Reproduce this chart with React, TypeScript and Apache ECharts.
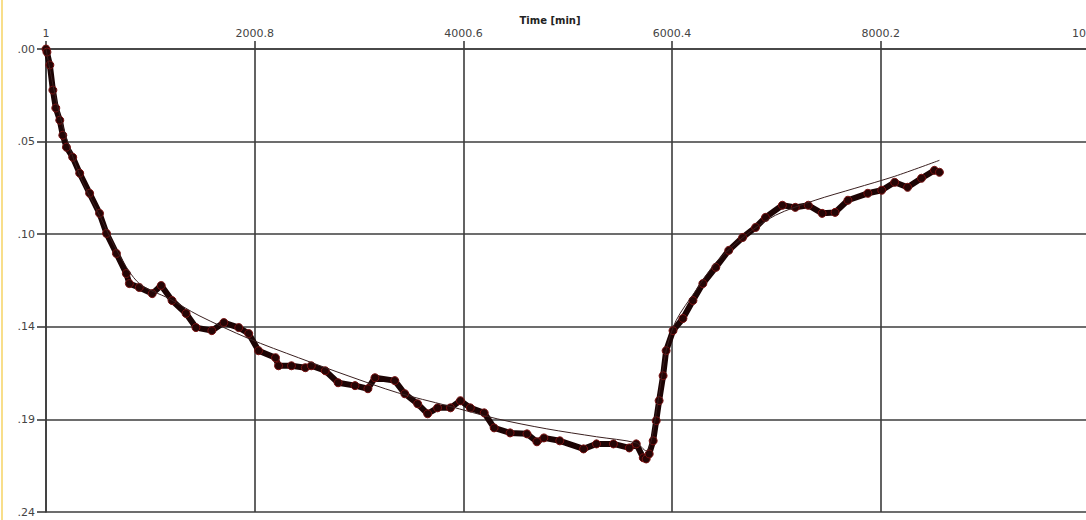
import React, { useEffect, useRef } from "react";
import * as echarts from "echarts";

// Measured data: time [min] and value
const dataTime = [1, 10, 38, 67, 95, 133, 162, 197, 257, 324, 419, 514, 581, 676, 771, 800, 895, 1019, 1105, 1209, 1343, 1438, 1590, 1705, 1848, 1943, 2038, 2200, 2229, 2353, 2486, 2543, 2677, 2800, 2962, 3086, 3153, 3343, 3439, 3562, 3658, 3753, 3877, 3972, 4067, 4200, 4295, 4448, 4610, 4705, 4772, 4924, 5152, 5276, 5438, 5590, 5657, 5724, 5752, 5781, 5819, 5848, 5876, 5914, 5943, 6009, 6104, 6200, 6295, 6419, 6543, 6676, 6800, 6895, 7057, 7181, 7305, 7438, 7562, 7685, 7876, 8009, 8133, 8257, 8390, 8514, 8562];
const dataValue = [0, -0.0016, -0.0083, -0.0213, -0.0306, -0.0369, -0.0447, -0.0509, -0.0561, -0.0644, -0.0748, -0.0852, -0.0956, -0.106, -0.1164, -0.1216, -0.1236, -0.1268, -0.1226, -0.1304, -0.1371, -0.1444, -0.146, -0.1418, -0.1444, -0.1475, -0.1564, -0.16, -0.1642, -0.1642, -0.1652, -0.1642, -0.1668, -0.173, -0.1745, -0.1761, -0.1704, -0.1719, -0.1787, -0.1839, -0.1891, -0.186, -0.186, -0.1823, -0.186, -0.1886, -0.1964, -0.199, -0.1995, -0.2036, -0.2016, -0.2031, -0.2073, -0.2047, -0.2047, -0.2068, -0.2047, -0.2119, -0.2125, -0.2099, -0.2031, -0.1927, -0.1823, -0.1694, -0.1564, -0.146, -0.1397, -0.1304, -0.1216, -0.1132, -0.1044, -0.0977, -0.0925, -0.0873, -0.081, -0.0821, -0.081, -0.0852, -0.0847, -0.0784, -0.0748, -0.0732, -0.0691, -0.0717, -0.067, -0.0629, -0.0639];

// Fitted curve
const fitTime = [1, 133, 324, 514, 705, 895, 1181, 1467, 1943, 2419, 2895, 3372, 3848, 4324, 4800, 5276, 5657, 5752, 5800, 5866, 5943, 6038, 6228, 6419, 6704, 6990, 7371, 7752, 8133, 8562];
const fitValue = [0, -0.0343, -0.0655, -0.0862, -0.107, -0.1216, -0.1294, -0.1382, -0.1501, -0.16, -0.1694, -0.1782, -0.1849, -0.1917, -0.1969, -0.201, -0.2042, -0.2083, -0.2031, -0.1823, -0.1564, -0.1408, -0.1252, -0.1107, -0.0966, -0.0862, -0.0784, -0.0722, -0.066, -0.0577];

// Axis settings (x ticks: 1, 2000.8, 4000.6, 6000.4, 8000.2, 10000)
const xStart = 1;
const xEnd = 10000;
const xStep = 1999.8;
const yMin = -0.24;
const yMax = 0;
const yStep = 0.048;
const xTitle = "Time [min]";

export default function App() {
  const ref = useRef<HTMLDivElement>(null);
  useEffect(() => {
    if (!ref.current) return;
    const chart = echarts.init(ref.current, null, { renderer: "svg" });
    const shift = (t: number) => t - xStart;
    const dataPts = dataTime.map((t, i) => [shift(t), dataValue[i]]);
    const fitPts = fitTime.map((t, i) => [shift(t), fitValue[i]]);
    const gridColor = "#3c3c3c";
    const font = "Verdana, 'DejaVu Sans', sans-serif";
    chart.setOption({
      animation: false,
      backgroundColor: "#ffffff",
      grid: { left: 46, top: 49, width: 1050, height: 463, containLabel: false },
      graphic: [
        { type: "rect", shape: { x: 1, y: 0, width: 2, height: 520 }, style: { fill: "#f8de8a" } },
        {
          type: "text",
          x: 550,
          y: 20,
          style: {
            text: xTitle,
            fill: "#222",
            font: "bold 10px Verdana, 'DejaVu Sans', sans-serif",
            textAlign: "center",
            textVerticalAlign: "middle",
          },
        },
      ],
      xAxis: {
        type: "value",
        position: "top",
        min: 0,
        max: xEnd - xStart,
        interval: xStep,
        axisLine: { show: true, lineStyle: { color: gridColor, width: 1.6 } },
        axisTick: { show: true, inside: false, length: 8, lineStyle: { color: gridColor, width: 1.6 } },
        splitLine: { show: true, lineStyle: { color: gridColor, width: 1.6 } },
        axisLabel: {
          color: "#444",
          fontSize: 11,
          fontFamily: font,
          margin: 10,
          formatter: (v: number) => {
            const r = Math.round((v + xStart) * 10) / 10;
            return Number.isInteger(r) ? String(r) : r.toFixed(1);
          },
        },
      },
      yAxis: {
        type: "value",
        min: yMin,
        max: yMax,
        interval: yStep,
        axisLine: { show: true, lineStyle: { color: gridColor, width: 1.6 } },
        axisTick: { show: true, inside: false, length: 9, lineStyle: { color: gridColor, width: 1.6 } },
        splitLine: { show: true, lineStyle: { color: gridColor, width: 1.6 } },
        axisLabel: {
          color: "#444",
          fontSize: 11,
          fontFamily: font,
          margin: 11,
          formatter: (v: number) => {
            const n = Math.round(Math.abs(v) * 100);
            return "." + String(n).padStart(2, "0");
          },
        },
      },
      series: [
        {
          type: "line",
          data: dataPts,
          z: 2,
          symbol: "circle",
          symbolSize: 8,
          showSymbol: true,
          itemStyle: { color: "#260505", borderColor: "#7a1212", borderWidth: 1 },
          lineStyle: { color: "#1c0404", width: 6 },
        },
        {
          type: "line",
          data: fitPts,
          z: 3,
          smooth: 0.3,
          symbol: "none",
          lineStyle: { color: "#3a2020", width: 1 },
        },
      ],
    });
    return () => chart.dispose();
  }, []);
  return (
    <div style={{ position: "fixed", left: 0, top: 0, width: 1086, height: 520, overflow: "hidden", background: "#fff" }}>
      <div ref={ref} style={{ width: 1110, height: 520 }} />
    </div>
  );
}
